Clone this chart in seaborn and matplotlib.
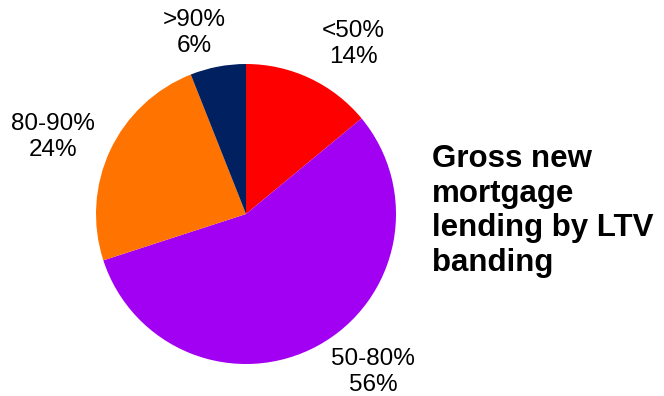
import matplotlib
matplotlib.use("Agg")
import matplotlib.pyplot as plt
import seaborn as sns

categories = ["<50%", "50-80%", "80-90%", ">90%"]
values = [14, 56, 24, 6]
colors = ["#FF0000", "#A100F2", "#FF7300", "#002060"]
title = "Gross new\nmortgage\nlending by LTV\nbanding"

sns.set_theme(style="white")
plt.rcParams["font.family"] = ["Liberation Sans", "DejaVu Sans"]

W, H = 664, 396
fig = plt.figure(figsize=(W / 100, H / 100), dpi=100)
cx, cy, r = 246, 214, 150
ax = fig.add_axes([(cx - r) / W, (H - cy - r) / H, 2 * r / W, 2 * r / H])
ax.pie(values, colors=colors, startangle=90, counterclock=False,
       wedgeprops=dict(linewidth=0), radius=1)
ax.set_xlim(-1, 1)
ax.set_ylim(-1, 1)
ax.set_aspect("equal")
ax.axis("off")

# label pixel positions (centres)
label_pos = {"<50%": (353, 44), "50-80%": (373, 372), "80-90%": (53, 137), ">90%": (194, 33)}
for cat, v in zip(categories, values):
    px, py = label_pos[cat]
    fig.text(px / W, 1 - py / H, f"{cat}\n{v}%", ha="center", va="center",
             fontsize=17.5, color="black", linespacing=1.24)

fig.text(432 / W, 1 - 211 / H, title, ha="left", va="center", fontsize=22.5,
         fontweight="bold", color="black", linespacing=1.21)

fig.savefig("out.png", dpi=100)
